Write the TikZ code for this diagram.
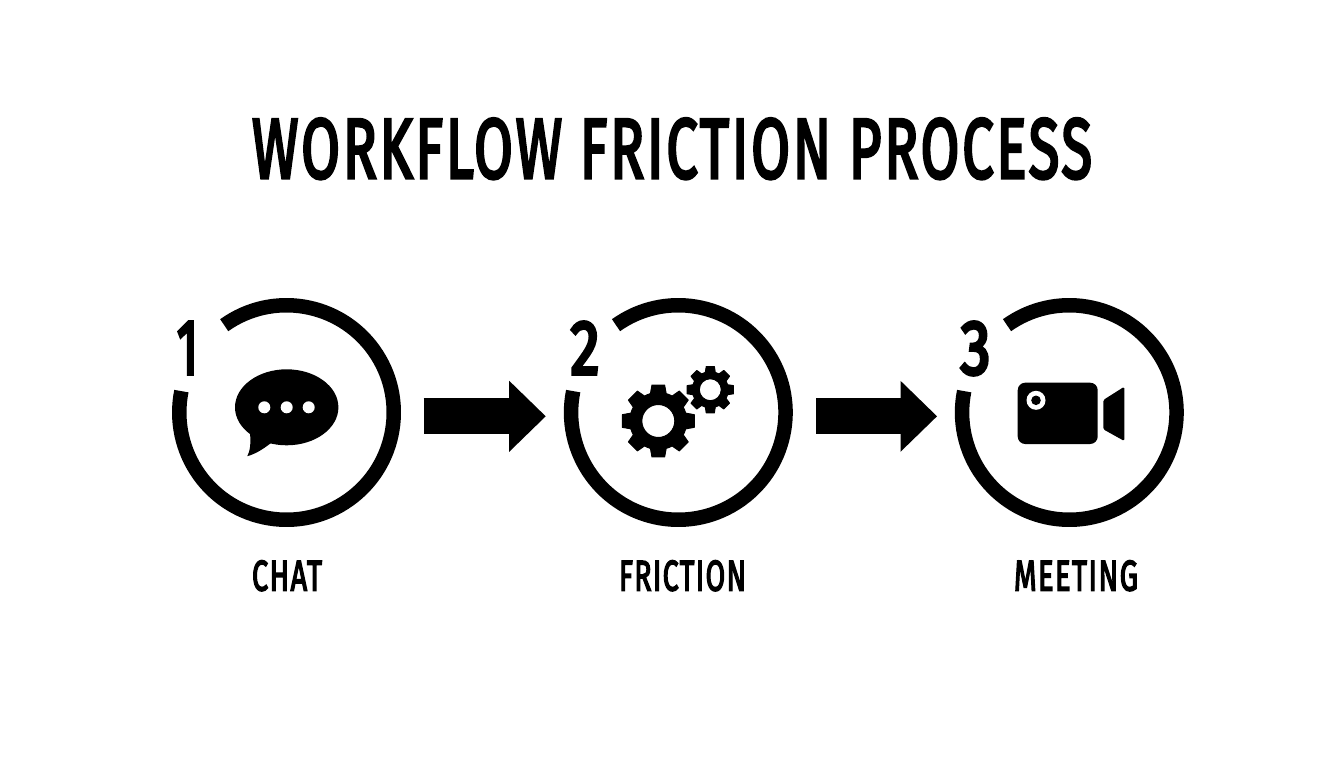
\documentclass[tikz,border=0pt]{standalone}
\usepackage{fontspec}
\usepackage{graphicx}
\setmainfont{Fira Sans}
\newfontfamily\din{Fira Sans}[FakeBold=4,LetterSpace=5]
\newfontfamily\dinfig{Fira Sans}[FakeBold=5]
\usetikzlibrary{arrows.meta}
\tikzset{
  ring/.style={line width=14.5pt,line cap=butt,black},
  ink/.style={fill=black,draw=none},
  paper/.style={fill=white,draw=none},
  flow/.style={line width=36pt,line cap=butt,black,-{Triangle[length=36.5pt,width=71pt,line width=0pt]}},
  fitted/.style={anchor=base west,inner sep=0pt,outer sep=0pt,text=black},
  toothed/.style={fill=black,draw=black,line width=1pt,line join=round,even odd rule}
}
\newcommand{\fitted}[7][\din]{\node[fitted] (#2) at (#3,#4) {\resizebox{#5pt}{#6pt}{#1{#7}}};}
\newcommand{\ringat}[2]{\draw[ring] ([shift={(-125.5:107.25)}]#1,412.5) arc (-125.5:191.5:107.25);\coordinate (#2) at (#1,412.5);}
\newcommand{\gearat}[6]{% name,cx,cy,Ro,Ri,hole
  \coordinate (#1) at (#2,#3);
  \fill[toothed] ([shift={(-16:#5)}]#1)
    \foreach \a in {0,45,...,315}{
      -- ([shift={(\a-16:#5)}]#1) -- ([shift={(\a-10:#4)}]#1) -- ([shift={(\a+10:#4)}]#1) -- ([shift={(\a+16:#5)}]#1)
      arc[start angle=\a+16,end angle=\a+29,radius=#5]
    } -- cycle
    (#1) circle[radius=#6];
}
\begin{document}
\begin{tikzpicture}[x=1pt,y=-1pt]
\useasboundingbox (0,0) rectangle (1344,768);
\fill[white] (0,0) rectangle (1344,768);
% title
\fitted{title}{252}{178}{840}{59.5}{WORKFLOW FRICTION PROCESS}
% rings
\ringat{286.5}{c1}
\ringat{678.3}{c2}
\ringat{1069.3}{c3}
% numbers
\fitted[\dinfig]{n1}{177}{374}{21}{52}{1}
\fitted[\dinfig]{n2}{570.5}{374}{29}{52}{2}
\fitted[\dinfig]{n3}{960.5}{374}{30}{52}{3}
% labels
\fitted{l1}{252}{590.5}{70}{30}{CHAT}
\fitted{l2}{619}{590.5}{127}{30}{FRICTION}
\fitted{l3}{1014}{590.5}{124}{30}{MEETING}
% arrows
\coordinate (a1s) at (423.7,416.3);
\coordinate (a1e) at (545.7,416.3);
\coordinate (a2s) at (816,416.3);
\coordinate (a2e) at (937,416.3);
\draw[flow] (a1s) -- (a1e);
\draw[flow] (a2s) -- (a2e);
% bubble
\fill[ink] (286.7,407.3) ellipse[x radius=51.7,y radius=38];
\fill[ink] (250,433) .. controls (251,444) and (250,451) .. (247.3,456.2) .. controls (255,454) and (262,450) .. (271,443) -- cycle;
\foreach \x/\n in {264.3/d1,286.7/d2,308.7/d3}
  \fill[paper] (\x,407.3) circle[radius=6];
% gears
\gearat{g1}{658.3}{421}{36.5}{28.5}{16.5}
\gearat{g2}{710.3}{389.7}{23.5}{18}{11}
% camera
\fill[ink,rounded corners=7.5pt] (1017.7,382.7) rectangle (1097.7,444);
\fill[paper] (1036,400.3) circle[radius=9.5];
\fill[ink] (1036,400.3) circle[radius=4.8];
\fill[ink,rounded corners=1.5pt] (1103.3,400) -- (1124.3,386.7) -- (1124.3,441) -- (1103.3,429.3) -- cycle;
\end{tikzpicture}
\end{document}
